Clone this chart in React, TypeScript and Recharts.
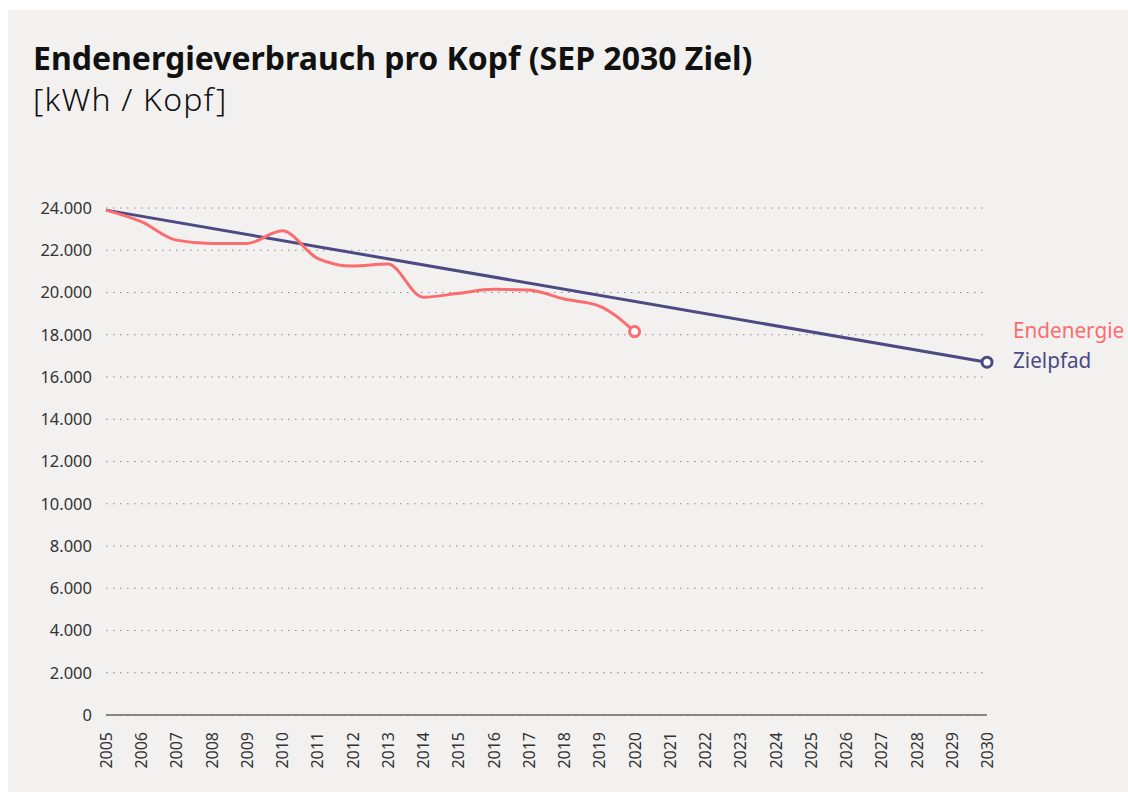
import React from "react";
import { LineChart, Line, XAxis, YAxis, CartesianGrid } from "recharts";

const years: string[] = [
  "2005", "2006", "2007", "2008", "2009", "2010", "2011", "2012", "2013",
  "2014", "2015", "2016", "2017", "2018", "2019", "2020", "2021", "2022",
  "2023", "2024", "2025", "2026", "2027", "2028", "2029", "2030",
];

const endenergie: (number | null)[] = [
  23900, 23350, 22480, 22320, 22320, 22920, 21620, 21250, 21350, 19780,
  19960, 20150, 20120, 19690, 19360, 18150, null, null, null, null, null,
  null, null, null, null, null,
];

const zielpfad: (number | null)[] = [
  23900, null, null, null, null, null, null, null, null, null, null, null,
  null, null, null, null, null, null, null, null, null, null, null, null,
  null, 16700,
];

const yTicks: number[] = [0, 2000, 4000, 6000, 8000, 10000, 12000, 14000, 16000, 18000, 20000, 22000, 24000];

const data = years.map((y, i) => ({ year: y, endenergie: endenergie[i], zielpfad: zielpfad[i] }));

const RED = "#fb6c6e";
const BLUE = "#4b4a82";
const FONT = "'Noto Sans', 'Open Sans', sans-serif";

const lastIndex = (arr: (number | null)[]) => {
  let k = -1;
  arr.forEach((v, i) => { if (v !== null) k = i; });
  return k;
};

const makeDot = (arr: (number | null)[], color: string) => (props: any) => {
  const { cx, cy, index } = props;
  if (index !== lastIndex(arr) || cx == null || cy == null) return <g key={`d${index}`} />;
  return <circle key={`d${index}`} cx={cx} cy={cy} r={5} fill="#ffffff" stroke={color} strokeWidth={3} />;
};

const fmt = (v: number) => (v === 0 ? "0" : v.toLocaleString("de-DE"));

const XTick = (props: any) => {
  const { x, y, payload } = props;
  return (
    <text
      x={0}
      y={0}
      transform={`translate(${x},${y + 9}) rotate(-90)`}
      textAnchor="end"
      dominantBaseline="central"
      fontSize={16}
      fill="#333"
      fontFamily={FONT}
    >
      {payload.value}
    </text>
  );
};

export default function App() {
  return (
    <div
      style={{
        position: "absolute",
        left: 8,
        top: 10,
        width: 1120,
        height: 782,
        background: "#f2f1ef",
        fontFamily: FONT,
        overflow: "hidden",
      }}
    >
      <div
        style={{
          position: "absolute",
          left: 25,
          top: 28,
          fontSize: 32,
          fontWeight: 700,
          color: "#111",
          whiteSpace: "nowrap",
          lineHeight: "40px",
        }}
      >
        Endenergieverbrauch pro Kopf (SEP 2030 Ziel)
      </div>
      <div
        style={{
          position: "absolute",
          left: 25,
          top: 69,
          fontSize: 32,
          fontWeight: 300,
          letterSpacing: 1.2,
          color: "#111",
          whiteSpace: "nowrap",
          lineHeight: "40px",
        }}
      >
        [kWh / Kopf]
      </div>
      <div style={{ position: "absolute", left: 0, top: 0 }}>
        <LineChart
          width={1120}
          height={782}
          data={data}
          margin={{ top: 198, right: 141, bottom: 17, left: 0 }}
        >
          <CartesianGrid
            horizontal
            vertical={false}
            stroke="#8a8a8a"
            strokeDasharray="1.5 5.5"
          />
          <XAxis
            dataKey="year"
            interval={0}
            tickLine={false}
            axisLine={{ stroke: "#666", strokeWidth: 1.5 }}
            tick={<XTick />}
            height={60}
          />
          <YAxis
            domain={[0, 24000]}
            ticks={yTicks}
            tickFormatter={fmt}
            tickLine={false}
            axisLine={false}
            width={98}
            tickMargin={8}
            tick={{ fontSize: 16.5, fill: "#333", fontFamily: FONT }}
            interval={0}
          />
          <Line
            type="linear"
            dataKey="zielpfad"
            stroke={BLUE}
            strokeWidth={3}
            connectNulls
            dot={makeDot(zielpfad, BLUE)}
            activeDot={false}
            isAnimationActive={false}
          />
          <Line
            type="monotone"
            dataKey="endenergie"
            stroke={RED}
            strokeWidth={3}
            dot={makeDot(endenergie, RED)}
            activeDot={false}
            isAnimationActive={false}
          />
        </LineChart>
      </div>
      <div
        style={{
          position: "absolute",
          left: 1005,
          top: 305,
          fontSize: 22,
          color: RED,
          whiteSpace: "nowrap",
          lineHeight: "28px",
          transformOrigin: "0 0",
          transform: "scaleX(0.94)",
        }}
      >
        Endenergie
      </div>
      <div
        style={{
          position: "absolute",
          left: 1005,
          top: 335,
          fontSize: 22,
          color: BLUE,
          whiteSpace: "nowrap",
          lineHeight: "28px",
          transformOrigin: "0 0",
          transform: "scaleX(0.94)",
        }}
      >
        Zielpfad
      </div>
    </div>
  );
}
